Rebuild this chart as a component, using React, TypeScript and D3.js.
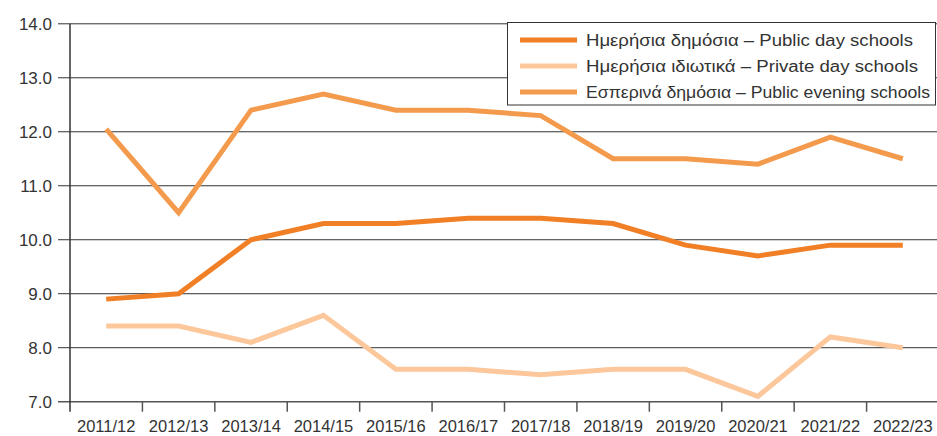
import React from "react";
import * as d3 from "d3";

const categories = ["2011/12","2012/13","2013/14","2014/15","2015/16","2016/17","2017/18","2018/19","2019/20","2020/21","2021/22","2022/23"];
const publicDay = [8.9, 9.0, 10.0, 10.3, 10.3, 10.4, 10.4, 10.3, 9.9, 9.7, 9.9, 9.9];
const privateDay = [8.4, 8.4, 8.1, 8.6, 7.6, 7.6, 7.5, 7.6, 7.6, 7.1, 8.2, 8.0];
const publicEvening = [12.05, 10.5, 12.4, 12.7, 12.4, 12.4, 12.3, 11.5, 11.5, 11.4, 11.9, 11.5];
const yTicks = [7, 8, 9, 10, 11, 12, 13, 14];

const series = [
  { name: "Ημερήσια δημόσια – Public day schools", values: publicDay, color: "#F07F26" },
  { name: "Ημερήσια ιδιωτικά – Private day schools", values: privateDay, color: "#FDC79C" },
  { name: "Εσπερινά δημόσια – Public evening schools", values: publicEvening, color: "#F39A4C" },
];

// rendered widths of the legend labels (layout)
const legendTextWidths = [327, 332, 344];

const W = 937, H = 436;
const left = 70, right = 939, top = 23.8, bottom = 401.7;

export default function App() {
  const x = d3.scaleBand<string>().domain(categories).range([left, right]);
  const y = d3.scaleLinear().domain([7, 14]).range([bottom, top]);
  const line = d3.line<number>()
    .x((_, i) => (x(categories[i]) as number) + x.bandwidth() / 2)
    .y((d) => y(d));
  const font = "'Liberation Sans', Arial, Helvetica, sans-serif";
  const drawOrder = [2, 1, 0];
  return (
    <svg width={W} height={H} style={{ position: "absolute", left: 0, top: 0, background: "#fff" }} fontFamily={font}>
      {yTicks.map((t) => (
        <g key={t}>
          <line x1={left - 12} x2={W} y1={y(t)} y2={y(t)} stroke={t === 7 ? "#555" : "#333"} strokeWidth={t === 7 ? 1.5 : 1} />
          <text x={52} y={y(t)} dy="0.36em" textAnchor="end" fontSize={17} fill="#333">{t.toFixed(1)}</text>
        </g>
      ))}
      <line x1={left} x2={left} y1={top} y2={bottom + 10} stroke="#333" strokeWidth={1.5} />
      {categories.map((c, i) => (
        <g key={c}>
          {i > 0 && <line x1={x(c) as number} x2={x(c) as number} y1={bottom} y2={bottom + 10} stroke="#555" strokeWidth={1.5} />}
          <text x={(x(c) as number) + x.bandwidth() / 2} y={432} textAnchor="middle" fontSize={16.5} fill="#333">{c}</text>
        </g>
      ))}
      {drawOrder.map((k) => (
        <path key={k} d={line(series[k].values) || ""} fill="none" stroke={series[k].color} strokeWidth={5} strokeLinejoin="miter" />
      ))}
      <rect x={507.5} y={22.5} width={428} height={82.5} fill="#fff" stroke="#333" strokeWidth={1} />
      {series.map((s, i) => (
        <g key={s.name}>
          <line x1={520} x2={577} y1={40 + i * 26} y2={40 + i * 26} stroke={s.color} strokeWidth={5} />
          <text x={586} y={40 + i * 26} dy="0.36em" fontSize={15.8} fill="#333"
            textLength={legendTextWidths[i]} lengthAdjust="spacingAndGlyphs">{s.name}</text>
        </g>
      ))}
    </svg>
  );
}
